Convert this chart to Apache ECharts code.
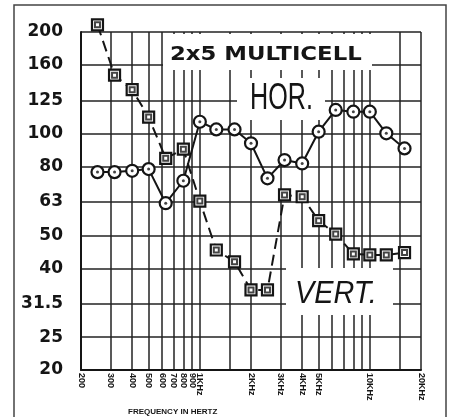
<!DOCTYPE html>
<html><head><meta charset="utf-8">
<script src="https://cdn.jsdelivr.net/npm/echarts@6/dist/echarts.min.js"></script>
<style>html,body{margin:0;padding:0;background:#fff}#c{width:451px;height:417px}</style>
</head><body><div id="c"></div>
<script>
const freqs = [250,315,400,500,630,800,1000,1250,1600,2000,2500,3150,4000,5000,6300,8000,10000,12500,16000];
const horValues = [77,77,77.7,78.6,62.3,72.6,108.5,103,103,93.7,73.8,83.6,81.7,101.4,117.6,116.2,116.2,100.3,90.5];
const vertValues = [210,149,135,112,84.6,90,63.2,45.3,41.8,34.5,34.5,65.9,65.1,55.3,50.5,44.1,43.8,43.8,44.5];
const yTickValues = [20,25,31.5,40,50,63,80,100,125,160,200];
const yTickLabels = ['20','25','31.5','40','50','63','80','100','125','160','200'];
const xGridValues = [200,300,400,500,600,700,800,900,1000,1500,2000,3000,4000,5000,6000,7000,8000,9000,10000,15000,20000];
const xLabelValues = [200,300,400,500,600,700,800,900,1000,2000,3000,4000,5000,10000,20000];
const xLabelTexts = ['200','300','400','500','600','700','800','900','1KHz','2KHz','3KHz','4KHz','5KHz','10KHz','20KHz'];

const horData = freqs.map((f,i)=>[f,horValues[i]]);
const vertData = freqs.map((f,i)=>[f,vertValues[i]]);
function lookup(vals, texts, v){
  for(let i=0;i<vals.length;i++){ if(Math.abs(vals[i]-v) < 1e-4*vals[i]) return texts[i]; }
  return '';
}
const INK='#151515';
const chart = echarts.init(document.getElementById('c'), null, {renderer:'canvas'});
chart.setOption({
  animation:false,
  backgroundColor:'#fff',
  grid:{left:81,right:30,top:32,bottom:47},
  xAxis:{
    type:'log', logBase:10, min:200, max:20000,
    axisLine:{show:true,lineStyle:{color:INK,width:2}},
    axisTick:{show:false, customValues:xGridValues},
    axisLabel:{customValues:xLabelValues, rotate:-90, margin:3,
      formatter:v=>lookup(xLabelValues,xLabelTexts,v),
      fontFamily:'Liberation Sans', fontWeight:'bold', fontSize:9, color:INK},
    splitLine:{show:true,lineStyle:{color:'#222',width:1.5}},
    minorTick:{show:false}, minorSplitLine:{show:false}
  },
  yAxis:{
    type:'log', logBase:10, min:20, max:200,
    axisLine:{show:true,lineStyle:{color:INK,width:2}},
    axisTick:{show:false, customValues:yTickValues},
    axisLabel:{customValues:yTickValues, margin:18,
      formatter:v=>lookup(yTickValues,yTickLabels,v),
      fontFamily:'DejaVu Sans', fontWeight:'bold', fontSize:17, color:INK},
    splitLine:{show:true,lineStyle:{color:'#222',width:1.5}}
  },
  graphic:[
    {type:'rect', z:100, shape:{x:14,y:5,width:432,height:420}, style:{fill:'none',stroke:'#444',lineWidth:1.5}},
    {type:'rect', z:1, shape:{x:163,y:34,width:209,height:36}, style:{fill:'#fff'}},
    {type:'rect', z:1, shape:{x:237,y:78,width:88,height:42}, style:{fill:'#fff'}},
    {type:'rect', z:1, shape:{x:286,y:268,width:107,height:47}, style:{fill:'#fff'}},
    {type:'text', z:1, x:170, y:55, scaleX:1.14, style:{text:'2x5 MULTICELL', font:'bold 20px "DejaVu Sans"', fill:INK, textAlign:'left', textVerticalAlign:'middle'}},
    {type:'text', z:1, x:250, y:99, scaleX:0.68, style:{text:'HOR.', font:'37px "Liberation Sans"', fill:INK, textAlign:'left', textVerticalAlign:'middle'}},
    {type:'text', z:1, x:295, y:294, scaleX:0.9, style:{text:'VERT.', font:'italic 32px "Liberation Sans"', fill:INK, textAlign:'left', textVerticalAlign:'middle'}},
    {type:'text', z:1, x:128, y:412, style:{text:'FREQUENCY IN HERTZ', font:'bold 8px "Liberation Sans"', fill:INK, textAlign:'left', textVerticalAlign:'middle'}}
  ],
  series:[
    {name:'HOR', type:'line', data:horData, clip:false, z:5,
     symbol:'circle', symbolSize:12,
     lineStyle:{color:INK,width:2},
     itemStyle:{color:'#fff',borderColor:INK,borderWidth:2.2}},
    {name:'HORdot', type:'scatter', data:horData, clip:false, z:6,
     symbol:'circle', symbolSize:3, itemStyle:{color:INK}},
    {name:'VERT', type:'line', data:vertData, clip:false, z:5,
     symbol:'rect', symbolSize:11,
     lineStyle:{color:INK,width:2,type:[11,6]},
     itemStyle:{color:'#fff',borderColor:INK,borderWidth:2.2}},
    {name:'VERTin', type:'scatter', data:vertData, clip:false, z:6,
     symbol:'emptyRect', symbolSize:5, itemStyle:{color:INK,borderWidth:1.2}}
  ]
});
</script></body></html>
